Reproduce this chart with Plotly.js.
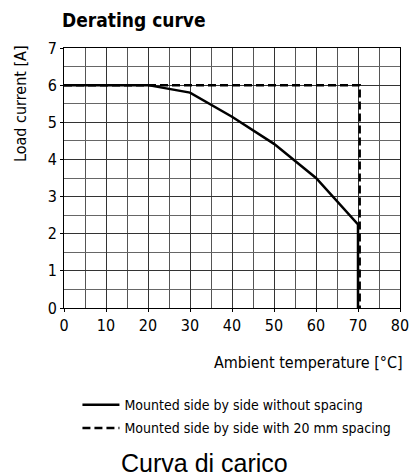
<!DOCTYPE html>
<html><head><meta charset="utf-8">
<script src="https://cdn.plot.ly/plotly-3.0.1.min.js"></script>
<style>html,body{margin:0;padding:0;background:#fff}#chart{width:410px;height:476px}
#chart svg text {font-stretch: condensed;}
</style>
</head><body><div id="chart"></div>
<script>
const tempNoSpacing = [0, 20, 30, 40, 50, 60, 70, 70];
const currentNoSpacing = [6, 6, 5.8, 5.15, 4.42, 3.5, 2.25, 0];
const tempSpacing = [0, 70.4, 70.4];
const currentSpacing = [6, 6, 0];
const seriesNames = ['Mounted side by side without spacing', 'Mounted side by side with 20 mm spacing'];
const xTickVals = [0, 10, 20, 30, 40, 50, 60, 70, 80];
const yTickVals = [0, 1, 2, 3, 4, 5, 6, 7];

const cond = '"DejaVu Sans Condensed", "Liberation Sans Narrow", "DejaVu Sans", sans-serif';
const traces = [
  {x: tempNoSpacing, y: currentNoSpacing, mode: 'lines', name: seriesNames[0], legendgroup: 'a',
   line: {color: '#000', width: 2.5}},
  {x: tempSpacing, y: currentSpacing, mode: 'lines', name: seriesNames[1], legendgroup: 'b',
   line: {color: '#000', width: 2.5, dash: '8px,4px'}}
];
const gridCol = '#333';
const layout = {
  width: 410, height: 476,
  margin: {l: 64, r: 10, t: 48, b: 168},
  paper_bgcolor: '#fff', plot_bgcolor: '#fff',
  font: {family: cond, color: '#000', size: 15},
  title: {text: '<b>Derating curve</b>', x: 62/410, xref: 'container', xanchor: 'left', y: 1 - 20/476, yref: 'container', yanchor: 'middle',
          font: {family: cond, size: 19, color: '#000'}},
  xaxis: {range: [0, 80], tickvals: xTickVals, showgrid: true, gridcolor: gridCol, gridwidth: 1,
          minor: {dtick: 5, showgrid: true, gridcolor: '#555', gridwidth: 1},
          showline: true, linecolor: '#000', linewidth: 1, mirror: true,
          ticks: 'outside', ticklen: 3, tickcolor: '#000', zeroline: false,
          tickfont: {family: cond, size: 16}},
  yaxis: {range: [0, 7], tickvals: yTickVals, showgrid: true, gridcolor: gridCol, gridwidth: 1,
          minor: {dtick: 0.5, showgrid: true, gridcolor: '#666', gridwidth: 1},
          showline: true, linecolor: '#000', linewidth: 1, mirror: true,
          ticks: 'outside', ticklen: 3, tickcolor: '#000', zeroline: false,
          tickfont: {family: cond, size: 16}},
  showlegend: true,
  legend: {x: 0.04, xanchor: 'left', y: -0.312, yanchor: 'top', bgcolor: 'rgba(0,0,0,0)',
           font: {family: cond, size: 14}, tracegroupgap: 2, itemwidth: 37},
  annotations: [
    {text: 'Ambient temperature [°C]', xref: 'paper', yref: 'paper', x: 1.015, y: -54/260, xanchor: 'right', yanchor: 'middle',
     showarrow: false, font: {family: cond, size: 16, color: '#000'}},
    {text: 'Load current [A]', xref: 'paper', yref: 'paper', x: -44/336, y: (308-104)/260, xanchor: 'center', yanchor: 'middle',
     textangle: -90, showarrow: false, font: {family: cond, size: 16, color: '#000'}},
    {text: '<span style="font-stretch:normal">Curva di carico</span>', xref: 'paper', yref: 'paper', x: (204-64)/336, y: (308-463)/260, xanchor: 'center', yanchor: 'middle',
     showarrow: false, font: {family: '"Liberation Sans", Arial, sans-serif', size: 25, color: '#000'}}
  ]
};
Plotly.newPlot('chart', traces, layout, {displayModeBar: false, staticPlot: true});
</script>
</body></html>
